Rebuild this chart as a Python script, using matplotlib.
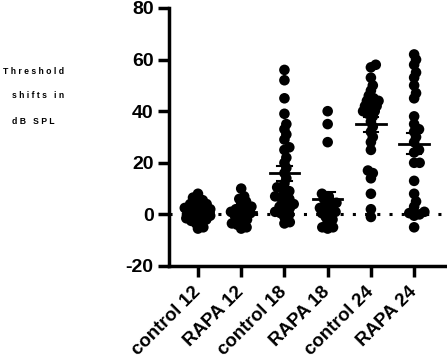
import numpy as np
import matplotlib
matplotlib.use("Agg")
import matplotlib.pyplot as plt

plt.rcParams['font.family'] = ['Liberation Sans', 'DejaVu Sans']

groups = ["control 12", "RAPA 12", "control 18", "RAPA 18", "control 24", "RAPA 24"]

control12 = [8, 6.5, 5, 4, 3, 2.5, 2, 1.5, 1, 0.5, 0, -0.5, -1, -1.5, -2, -2.5, -3, -3.5,
             -5, -5.5, 3.5, 5.5, 2, 4]
rapa12 = [10, 7, 5, 4, 3, 2.5, 2, 1.5, 1, 0.5, 0, -0.5, -1, -2, -3, -3.5, -5, -5.5, 6, -4]
control18 = [56, 52, 45, 39, 35, 33, 31, 29, 26, 25, 22, 20, 18, 16, 14, 12, 10, 9, 8, 7,
             6, 5, 4, 3, 2, 1, 0, 0.5, -1, -3, -3.5, 10.5, 6.5, 2.5]
rapa18 = [40, 35, 28, 8, 7, 6, 5, 4, 3, 2, 1, 0, 0.5, -1, -2, -3, -5, -5.5, -5, 2.5, 4.5]
control24 = [58, 57, 53, 50, 48, 46, 45, 44, 43, 42, 41, 40, 40, 38, 36, 34, 32, 30, 28,
             25, 17, 16, 14, 8, 2, -1, 44, 42, 39]
rapa24 = [62, 60, 58, 55, 53, 50, 47, 45, 38, 35, 33, 32, 30, 28, 25, 24, 20, 20, 13, 8,
          5, 3, 1, 0, 0.5, -0.5, -5]

data = [control12, rapa12, control18, rapa18, control24, rapa24]

yticks = [-20, 0, 20, 40, 60, 80]

W, H = 447, 361
fig = plt.figure(figsize=(W / 100, H / 100), dpi=100)
left, right = 169 / W, 1.0
bottom, top = 1 - 266 / H, 1 - 8 / H
ax = fig.add_axes([left, bottom, right - left, top - bottom])

xmin, xmax = -0.67, 5.76
ymin, ymax = -20, 80
ax.set_xlim(xmin, xmax)
ax.set_ylim(ymin, ymax)

# pixels per data unit, for the swarm layout
px_x = (right - left) * W / (xmax - xmin)
px_y = (top - bottom) * H / (ymax - ymin)
gap = 5.5  # min distance between point centres in px (points overlap like the original)


def swarm(vals, center):
    # simple beeswarm: put each point at the offset closest to the centre that keeps the gap
    ys = np.array(sorted(vals), dtype=float)
    placed = []
    xs = []
    for y in ys:
        yp = y * px_y
        cands = [0.0]
        for (xo, yo) in placed:
            dy = yp - yo
            if abs(dy) < gap:
                dx = np.sqrt(gap ** 2 - dy ** 2)
                cands += [xo + dx, xo - dx]
        cands.sort(key=abs)
        for c in cands:
            ok = True
            for (xo, yo) in placed:
                if (c - xo) ** 2 + (yp - yo) ** 2 < gap ** 2 - 1e-6:
                    ok = False
                    break
            if ok:
                break
        placed.append((c, yp))
        xs.append(center + c / px_x)
    return np.array(xs), ys


# dotted zero line
ax.axhline(0, color='black', linestyle=(0, (1, 3)), linewidth=2.2, zorder=1)

for i, vals in enumerate(data):
    xs, ys = swarm(vals, i)
    ax.scatter(xs, ys, s=58, color='black', edgecolors='none', zorder=3)
    m = np.mean(vals)
    sem = np.std(vals, ddof=1) / np.sqrt(len(vals))
    ax.plot([i - 0.34, i + 0.34], [m, m], color='black', linewidth=2, zorder=4)
    ax.plot([i, i], [m - sem, m + sem], color='black', linewidth=1.5, zorder=4)
    ax.plot([i - 0.17, i + 0.17], [m + sem, m + sem], color='black', linewidth=1.5, zorder=4)
    ax.plot([i - 0.17, i + 0.17], [m - sem, m - sem], color='black', linewidth=1.5, zorder=4)

ax.spines['top'].set_visible(False)
ax.spines['right'].set_visible(False)
ax.spines['left'].set_linewidth(2.5)
ax.spines['bottom'].set_linewidth(2.5)

ax.set_yticks(yticks)
ax.set_yticklabels([str(t) for t in yticks], fontsize=14, fontweight='bold')
ax.set_xticks(range(len(groups)))
ax.set_xticklabels(groups, fontsize=13.5, fontweight='bold', rotation=45,
                   ha='right', va='center', rotation_mode='anchor')
ax.tick_params(axis='both', width=2.5, length=8, pad=3)
ax.tick_params(axis='x', pad=9)

ylab = ["T h r e s h o l d", "s h i f t s   i n", "d B   S P L"]
ylab_pos = [(3, 71), (12, 96), (12, 121)]
for txt, (px, py) in zip(ylab, ylab_pos):
    fig.text(px / W, 1 - py / H, txt, fontsize=6.2, fontweight='bold', va='center', ha='left')

fig.savefig("out.png", dpi=100)
